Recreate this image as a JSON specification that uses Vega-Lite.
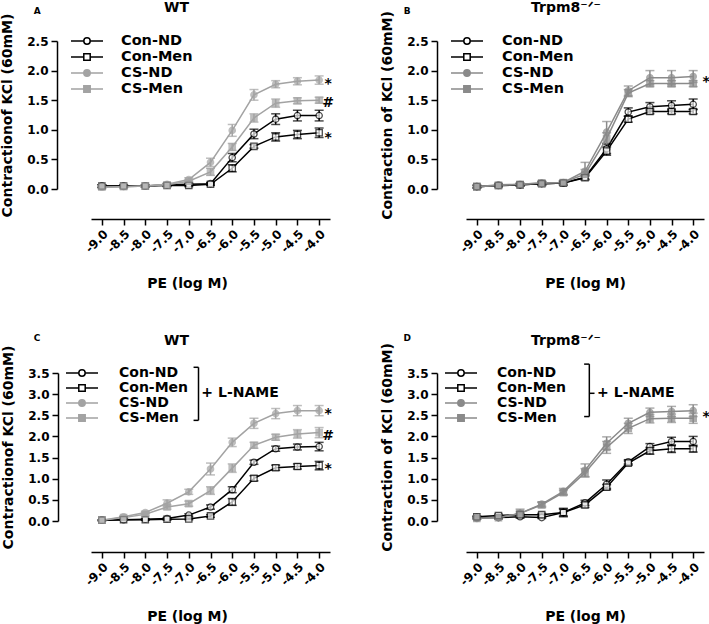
{
"$schema": "https://vega.github.io/schema/vega-lite/v6.json",
"background": "white",
"padding": {"left": 0, "top": 0, "right": 0, "bottom": 0},
"datasets": {
"main": [
{"p":"A","s":"Con-ND","x":-9,"y":0.05,"e":0.02},{"p":"A","s":"Con-ND","x":-8.5,"y":0.05,"e":0.02},{"p":"A","s":"Con-ND","x":-8,"y":0.05,"e":0.02},{"p":"A","s":"Con-ND","x":-7.5,"y":0.07,"e":0.02},{"p":"A","s":"Con-ND","x":-7,"y":0.08,"e":0.02},{"p":"A","s":"Con-ND","x":-6.5,"y":0.09,"e":0.02},{"p":"A","s":"Con-ND","x":-6,"y":0.53,"e":0.07},{"p":"A","s":"Con-ND","x":-5.5,"y":0.93,"e":0.08},{"p":"A","s":"Con-ND","x":-5,"y":1.18,"e":0.09},{"p":"A","s":"Con-ND","x":-4.5,"y":1.24,"e":0.09},{"p":"A","s":"Con-ND","x":-4,"y":1.24,"e":0.09},
{"p":"A","s":"Con-Men","x":-9,"y":0.05,"e":0.02},{"p":"A","s":"Con-Men","x":-8.5,"y":0.05,"e":0.02},{"p":"A","s":"Con-Men","x":-8,"y":0.05,"e":0.02},{"p":"A","s":"Con-Men","x":-7.5,"y":0.06,"e":0.02},{"p":"A","s":"Con-Men","x":-7,"y":0.06,"e":0.02},{"p":"A","s":"Con-Men","x":-6.5,"y":0.08,"e":0.02},{"p":"A","s":"Con-Men","x":-6,"y":0.35,"e":0.06},{"p":"A","s":"Con-Men","x":-5.5,"y":0.72,"e":0.03},{"p":"A","s":"Con-Men","x":-5,"y":0.88,"e":0.07},{"p":"A","s":"Con-Men","x":-4.5,"y":0.92,"e":0.07},{"p":"A","s":"Con-Men","x":-4,"y":0.95,"e":0.08},
{"p":"A","s":"CS-ND","x":-9,"y":0.03,"e":0.02},{"p":"A","s":"CS-ND","x":-8.5,"y":0.04,"e":0.02},{"p":"A","s":"CS-ND","x":-8,"y":0.05,"e":0.02},{"p":"A","s":"CS-ND","x":-7.5,"y":0.08,"e":0.02},{"p":"A","s":"CS-ND","x":-7,"y":0.16,"e":0.03},{"p":"A","s":"CS-ND","x":-6.5,"y":0.45,"e":0.07},{"p":"A","s":"CS-ND","x":-6,"y":0.99,"e":0.1},{"p":"A","s":"CS-ND","x":-5.5,"y":1.59,"e":0.09},{"p":"A","s":"CS-ND","x":-5,"y":1.77,"e":0.06},{"p":"A","s":"CS-ND","x":-4.5,"y":1.82,"e":0.06},{"p":"A","s":"CS-ND","x":-4,"y":1.84,"e":0.07},
{"p":"A","s":"CS-Men","x":-9,"y":0.03,"e":0.02},{"p":"A","s":"CS-Men","x":-8.5,"y":0.04,"e":0.02},{"p":"A","s":"CS-Men","x":-8,"y":0.05,"e":0.02},{"p":"A","s":"CS-Men","x":-7.5,"y":0.07,"e":0.02},{"p":"A","s":"CS-Men","x":-7,"y":0.13,"e":0.03},{"p":"A","s":"CS-Men","x":-6.5,"y":0.29,"e":0.06},{"p":"A","s":"CS-Men","x":-6,"y":0.71,"e":0.06},{"p":"A","s":"CS-Men","x":-5.5,"y":1.2,"e":0.07},{"p":"A","s":"CS-Men","x":-5,"y":1.45,"e":0.07},{"p":"A","s":"CS-Men","x":-4.5,"y":1.49,"e":0.05},{"p":"A","s":"CS-Men","x":-4,"y":1.5,"e":0.05},
{"p":"B","s":"Con-ND","x":-9,"y":0.04,"e":0.02},{"p":"B","s":"Con-ND","x":-8.5,"y":0.06,"e":0.02},{"p":"B","s":"Con-ND","x":-8,"y":0.07,"e":0.02},{"p":"B","s":"Con-ND","x":-7.5,"y":0.09,"e":0.03},{"p":"B","s":"Con-ND","x":-7,"y":0.1,"e":0.03},{"p":"B","s":"Con-ND","x":-6.5,"y":0.2,"e":0.04},{"p":"B","s":"Con-ND","x":-6,"y":0.68,"e":0.08},{"p":"B","s":"Con-ND","x":-5.5,"y":1.3,"e":0.07},{"p":"B","s":"Con-ND","x":-5,"y":1.39,"e":0.07},{"p":"B","s":"Con-ND","x":-4.5,"y":1.41,"e":0.08},{"p":"B","s":"Con-ND","x":-4,"y":1.43,"e":0.09},
{"p":"B","s":"Con-Men","x":-9,"y":0.04,"e":0.02},{"p":"B","s":"Con-Men","x":-8.5,"y":0.06,"e":0.02},{"p":"B","s":"Con-Men","x":-8,"y":0.07,"e":0.02},{"p":"B","s":"Con-Men","x":-7.5,"y":0.09,"e":0.03},{"p":"B","s":"Con-Men","x":-7,"y":0.1,"e":0.03},{"p":"B","s":"Con-Men","x":-6.5,"y":0.19,"e":0.03},{"p":"B","s":"Con-Men","x":-6,"y":0.64,"e":0.07},{"p":"B","s":"Con-Men","x":-5.5,"y":1.18,"e":0.05},{"p":"B","s":"Con-Men","x":-5,"y":1.31,"e":0.04},{"p":"B","s":"Con-Men","x":-4.5,"y":1.31,"e":0.04},{"p":"B","s":"Con-Men","x":-4,"y":1.31,"e":0.04},
{"p":"B","s":"CS-ND","x":-9,"y":0.04,"e":0.02},{"p":"B","s":"CS-ND","x":-8.5,"y":0.07,"e":0.02},{"p":"B","s":"CS-ND","x":-8,"y":0.08,"e":0.02},{"p":"B","s":"CS-ND","x":-7.5,"y":0.1,"e":0.03},{"p":"B","s":"CS-ND","x":-7,"y":0.11,"e":0.03},{"p":"B","s":"CS-ND","x":-6.5,"y":0.3,"e":0.15},{"p":"B","s":"CS-ND","x":-6,"y":0.96,"e":0.18},{"p":"B","s":"CS-ND","x":-5.5,"y":1.66,"e":0.08},{"p":"B","s":"CS-ND","x":-5,"y":1.88,"e":0.12},{"p":"B","s":"CS-ND","x":-4.5,"y":1.88,"e":0.12},{"p":"B","s":"CS-ND","x":-4,"y":1.9,"e":0.1},
{"p":"B","s":"CS-Men","x":-9,"y":0.04,"e":0.02},{"p":"B","s":"CS-Men","x":-8.5,"y":0.06,"e":0.02},{"p":"B","s":"CS-Men","x":-8,"y":0.08,"e":0.02},{"p":"B","s":"CS-Men","x":-7.5,"y":0.1,"e":0.03},{"p":"B","s":"CS-Men","x":-7,"y":0.11,"e":0.03},{"p":"B","s":"CS-Men","x":-6.5,"y":0.25,"e":0.08},{"p":"B","s":"CS-Men","x":-6,"y":0.85,"e":0.1},{"p":"B","s":"CS-Men","x":-5.5,"y":1.62,"e":0.06},{"p":"B","s":"CS-Men","x":-5,"y":1.78,"e":0.05},{"p":"B","s":"CS-Men","x":-4.5,"y":1.78,"e":0.05},{"p":"B","s":"CS-Men","x":-4,"y":1.78,"e":0.05},
{"p":"C","s":"Con-ND","x":-9,"y":0.02,"e":0.01},{"p":"C","s":"Con-ND","x":-8.5,"y":0.03,"e":0.01},{"p":"C","s":"Con-ND","x":-8,"y":0.04,"e":0.01},{"p":"C","s":"Con-ND","x":-7.5,"y":0.06,"e":0.02},{"p":"C","s":"Con-ND","x":-7,"y":0.14,"e":0.03},{"p":"C","s":"Con-ND","x":-6.5,"y":0.33,"e":0.05},{"p":"C","s":"Con-ND","x":-6,"y":0.74,"e":0.07},{"p":"C","s":"Con-ND","x":-5.5,"y":1.39,"e":0.05},{"p":"C","s":"Con-ND","x":-5,"y":1.71,"e":0.06},{"p":"C","s":"Con-ND","x":-4.5,"y":1.75,"e":0.07},{"p":"C","s":"Con-ND","x":-4,"y":1.76,"e":0.1},
{"p":"C","s":"Con-Men","x":-9,"y":0.02,"e":0.01},{"p":"C","s":"Con-Men","x":-8.5,"y":0.03,"e":0.01},{"p":"C","s":"Con-Men","x":-8,"y":0.03,"e":0.01},{"p":"C","s":"Con-Men","x":-7.5,"y":0.04,"e":0.02},{"p":"C","s":"Con-Men","x":-7,"y":0.05,"e":0.02},{"p":"C","s":"Con-Men","x":-6.5,"y":0.12,"e":0.03},{"p":"C","s":"Con-Men","x":-6,"y":0.45,"e":0.08},{"p":"C","s":"Con-Men","x":-5.5,"y":1.01,"e":0.06},{"p":"C","s":"Con-Men","x":-5,"y":1.26,"e":0.06},{"p":"C","s":"Con-Men","x":-4.5,"y":1.29,"e":0.06},{"p":"C","s":"Con-Men","x":-4,"y":1.31,"e":0.1},
{"p":"C","s":"CS-ND","x":-9,"y":0.02,"e":0.01},{"p":"C","s":"CS-ND","x":-8.5,"y":0.1,"e":0.02},{"p":"C","s":"CS-ND","x":-8,"y":0.2,"e":0.03},{"p":"C","s":"CS-ND","x":-7.5,"y":0.42,"e":0.08},{"p":"C","s":"CS-ND","x":-7,"y":0.69,"e":0.06},{"p":"C","s":"CS-ND","x":-6.5,"y":1.23,"e":0.14},{"p":"C","s":"CS-ND","x":-6,"y":1.86,"e":0.1},{"p":"C","s":"CS-ND","x":-5.5,"y":2.31,"e":0.12},{"p":"C","s":"CS-ND","x":-5,"y":2.54,"e":0.12},{"p":"C","s":"CS-ND","x":-4.5,"y":2.61,"e":0.12},{"p":"C","s":"CS-ND","x":-4,"y":2.61,"e":0.12},
{"p":"C","s":"CS-Men","x":-9,"y":0.02,"e":0.01},{"p":"C","s":"CS-Men","x":-8.5,"y":0.08,"e":0.02},{"p":"C","s":"CS-Men","x":-8,"y":0.16,"e":0.03},{"p":"C","s":"CS-Men","x":-7.5,"y":0.33,"e":0.05},{"p":"C","s":"CS-Men","x":-7,"y":0.41,"e":0.06},{"p":"C","s":"CS-Men","x":-6.5,"y":0.72,"e":0.09},{"p":"C","s":"CS-Men","x":-6,"y":1.25,"e":0.1},{"p":"C","s":"CS-Men","x":-5.5,"y":1.79,"e":0.07},{"p":"C","s":"CS-Men","x":-5,"y":1.98,"e":0.07},{"p":"C","s":"CS-Men","x":-4.5,"y":2.06,"e":0.1},{"p":"C","s":"CS-Men","x":-4,"y":2.09,"e":0.12},
{"p":"D","s":"Con-ND","x":-9,"y":0.08,"e":0.02},{"p":"D","s":"Con-ND","x":-8.5,"y":0.08,"e":0.03},{"p":"D","s":"Con-ND","x":-8,"y":0.1,"e":0.03},{"p":"D","s":"Con-ND","x":-7.5,"y":0.08,"e":0.02},{"p":"D","s":"Con-ND","x":-7,"y":0.2,"e":0.1},{"p":"D","s":"Con-ND","x":-6.5,"y":0.43,"e":0.06},{"p":"D","s":"Con-ND","x":-6,"y":0.87,"e":0.1},{"p":"D","s":"Con-ND","x":-5.5,"y":1.4,"e":0.05},{"p":"D","s":"Con-ND","x":-5,"y":1.76,"e":0.07},{"p":"D","s":"Con-ND","x":-4.5,"y":1.88,"e":0.1},{"p":"D","s":"Con-ND","x":-4,"y":1.88,"e":0.12},
{"p":"D","s":"Con-Men","x":-9,"y":0.1,"e":0.02},{"p":"D","s":"Con-Men","x":-8.5,"y":0.13,"e":0.03},{"p":"D","s":"Con-Men","x":-8,"y":0.15,"e":0.03},{"p":"D","s":"Con-Men","x":-7.5,"y":0.15,"e":0.03},{"p":"D","s":"Con-Men","x":-7,"y":0.2,"e":0.08},{"p":"D","s":"Con-Men","x":-6.5,"y":0.38,"e":0.06},{"p":"D","s":"Con-Men","x":-6,"y":0.8,"e":0.06},{"p":"D","s":"Con-Men","x":-5.5,"y":1.37,"e":0.05},{"p":"D","s":"Con-Men","x":-5,"y":1.66,"e":0.08},{"p":"D","s":"Con-Men","x":-4.5,"y":1.71,"e":0.09},{"p":"D","s":"Con-Men","x":-4,"y":1.71,"e":0.08},
{"p":"D","s":"CS-ND","x":-9,"y":0.06,"e":0.02},{"p":"D","s":"CS-ND","x":-8.5,"y":0.08,"e":0.03},{"p":"D","s":"CS-ND","x":-8,"y":0.18,"e":0.1},{"p":"D","s":"CS-ND","x":-7.5,"y":0.4,"e":0.05},{"p":"D","s":"CS-ND","x":-7,"y":0.7,"e":0.07},{"p":"D","s":"CS-ND","x":-6.5,"y":1.2,"e":0.15},{"p":"D","s":"CS-ND","x":-6,"y":1.84,"e":0.15},{"p":"D","s":"CS-ND","x":-5.5,"y":2.31,"e":0.12},{"p":"D","s":"CS-ND","x":-5,"y":2.57,"e":0.1},{"p":"D","s":"CS-ND","x":-4.5,"y":2.59,"e":0.12},{"p":"D","s":"CS-ND","x":-4,"y":2.61,"e":0.14},
{"p":"D","s":"CS-Men","x":-9,"y":0.06,"e":0.02},{"p":"D","s":"CS-Men","x":-8.5,"y":0.08,"e":0.03},{"p":"D","s":"CS-Men","x":-8,"y":0.18,"e":0.05},{"p":"D","s":"CS-Men","x":-7.5,"y":0.38,"e":0.06},{"p":"D","s":"CS-Men","x":-7,"y":0.67,"e":0.06},{"p":"D","s":"CS-Men","x":-6.5,"y":1.14,"e":0.1},{"p":"D","s":"CS-Men","x":-6,"y":1.74,"e":0.14},{"p":"D","s":"CS-Men","x":-5.5,"y":2.19,"e":0.12},{"p":"D","s":"CS-Men","x":-5,"y":2.42,"e":0.1},{"p":"D","s":"CS-Men","x":-4.5,"y":2.43,"e":0.1},{"p":"D","s":"CS-Men","x":-4,"y":2.43,"e":0.12}
],
"ann": [
{"p":"A","x":-4,"y":1.83,"label":"*"},{"p":"A","x":-4,"y":1.51,"label":"#"},{"p":"A","x":-4,"y":0.92,"label":"*"},
{"p":"B","x":-4,"y":1.86,"label":"*"},
{"p":"C","x":-4,"y":2.59,"label":"*"},{"p":"C","x":-4,"y":2.08,"label":"#"},{"p":"C","x":-4,"y":1.29,"label":"*"},
{"p":"D","x":-4,"y":2.54,"label":"*"}
],
"letters": [{"p":"A","t":"A"},{"p":"B","t":"B"},{"p":"C","t":"C"},{"p":"D","t":"D"}],
"lname": [{"p":"C","t":"+ L-NAME"},{"p":"D","t":"+ L-NAME"}]
},
"config": {
"view": {"stroke": null},
"font": "DejaVu Sans",
"axis": {"grid": false, "domainColor": "black", "domainWidth": 1.5, "tickColor": "black", "tickWidth": 1.5, "tickSize": 6, "labelFont": "DejaVu Sans", "labelFontWeight": "bold", "labelFontSize": 12, "labelColor": "black", "titleFont": "DejaVu Sans", "titleFontWeight": "bold", "titleFontSize": 14, "titleColor": "black", "labelPadding": 3, "labelOverlap": false},
"title": {"font": "DejaVu Sans", "fontSize": 14, "fontWeight": "bold", "color": "black", "anchor": "middle", "frame": "group"},
"legend": {"labelFont": "DejaVu Sans", "labelFontWeight": "bold", "labelFontSize": 14.5, "labelColor": "black", "padding": 0, "rowPadding": 0, "symbolStrokeWidth": 1.5, "symbolOpacity": 1},
"locale": {"number": {"decimal": ".", "thousands": ",", "grouping": [3], "currency": ["$", ""], "minus": "-"}}
},
"spacing": 43,
"resolve": {"scale": {"color": "independent", "stroke": "independent", "fill": "independent", "shape": "independent"}, "legend": {"color": "independent", "stroke": "independent", "fill": "independent", "shape": "independent"}},
"vconcat": [
{"hconcat": [
{"width": 239, "height": 148,
 "title": {"text": "WT", "dx": -34, "offset": -8},
 "layer": [
 {"encoding": {
  "x": {"field": "x", "type": "quantitative", "scale": {"domain": [-9.25, -3.75], "nice": false, "zero": false}, "axis": {"values": [-9,-8.5,-8,-7.5,-7,-6.5,-6,-5.5,-5,-4.5,-4], "format": ".1f", "labelAngle": -45, "offset": 30, "title": "PE (log M)", "titleX": 96, "titlePadding": 22}},
  "y": {"field": "y", "type": "quantitative", "scale": {"domain": [0, 2.5], "nice": false}, "axis": {"values": [0,0.5,1,1.5,2,2.5], "format": ".1f", "offset": 34, "title": "Contractionof KCl (60mM)", "titlePadding": 12}}
 },
 "layer": [
  {"data": {"name": "main"}, "transform": [{"filter": "datum.p == 'A'"}], "mark": {"type": "errorbar", "ticks": {"size": 9}, "thickness": 1.5}, "encoding": {"yError": {"field": "e"}, "color": {"field": "s", "type": "nominal", "scale": {"domain": ["CS-ND","CS-Men","Con-ND","Con-Men"], "range": ["#a3a3a3","#a3a3a3","black","black"]}, "legend": null}}},
  {"data": {"name": "main"}, "transform": [{"filter": "datum.p == 'A'"}], "mark": {"type": "line", "strokeWidth": 1.5}, "encoding": {"stroke": {"field": "s", "type": "nominal", "scale": {"domain": ["Con-ND","Con-Men","CS-ND","CS-Men"], "range": ["black","black","#a3a3a3","#a3a3a3"]}}}},
  {"data": {"name": "main"}, "transform": [{"filter": "datum.p == 'A' && (datum.s == 'Con-ND' || datum.s == 'CS-ND')"}], "mark": {"type": "point", "shape": "circle", "filled": true, "size": 40, "strokeWidth": 1.3},
   "encoding": {"fill": {"field": "s", "type": "nominal", "scale": {"domain": ["Con-ND","Con-Men","CS-ND","CS-Men"], "range": ["white","white","#a3a3a3","#a3a3a3"]}}, "stroke": {"field": "s", "type": "nominal"}}},
  {"data": {"name": "main"}, "transform": [{"filter": "datum.p == 'A' && (datum.s == 'Con-Men' || datum.s == 'CS-Men')"}], "mark": {"type": "point", "shape": "square", "filled": true, "size": 40, "strokeWidth": 1.3},
   "encoding": {"fill": {"field": "s", "type": "nominal"}, "stroke": {"field": "s", "type": "nominal"}}},
  {"data": {"name": "main"}, "transform": [{"filter": "datum.p == 'A'"}], "mark": {"type": "point", "filled": true, "opacity": 0, "strokeWidth": 1.5},
   "encoding": {
    "shape": {"field": "s", "type": "nominal", "scale": {"domain": ["Con-ND","Con-Men","CS-ND","CS-Men"], "range": ["M-1,0H-0.2M0.2,0H1M0.2,0A0.2,0.2,0,1,1,-0.2,0A0.2,0.2,0,1,1,0.2,0Z","M-1,0H-0.2M0.2,0H1M-0.2,-0.2H0.2V0.2H-0.2Z","M-1,0H-0.2M0.2,0H1M0.2,0A0.2,0.2,0,1,1,-0.2,0A0.2,0.2,0,1,1,0.2,0Z","M-1,0H-0.2M0.2,0H1M-0.2,-0.2H0.2V0.2H-0.2Z"]},
     "legend": {"orient": "none", "legendX": -21, "legendY": -7.5, "title": null, "symbolSize": 1024, "clipHeight": 15, "labelOffset": 17, "labelFontSize": 14.5}},
    "fill": {"field": "s", "type": "nominal", "legend": {"orient": "none", "legendX": -21, "legendY": -7.5, "title": null, "symbolSize": 1024, "clipHeight": 15, "labelOffset": 17, "labelFontSize": 14.5}},
    "stroke": {"field": "s", "type": "nominal", "legend": {"orient": "none", "legendX": -21, "legendY": -7.5, "title": null, "symbolSize": 1024, "clipHeight": 15, "labelOffset": 17, "labelFontSize": 14.5}}}},
  {"data": {"name": "ann"}, "transform": [{"filter": "datum.p == 'A'"}], "mark": {"type": "text", "dx": 9, "dy": 3, "font": "DejaVu Sans", "fontWeight": "bold", "fontSize": 14, "align": "center", "baseline": "middle", "color": "black"}, "encoding": {"text": {"field": "label"}}}
 ]},
 {"data": {"name": "letters"}, "transform": [{"filter": "datum.p == 'A'"}], "mark": {"type": "text", "fontSize": 9, "font": "DejaVu Sans", "fontWeight": "bold", "color": "black", "align": "center", "baseline": "middle"},
  "encoding": {"x": {"datum": -10.49, "type": "quantitative", "scale": {"domain": [-9.25, -3.75], "nice": false, "zero": false}, "axis": {"values": [-9,-8.5,-8,-7.5,-7,-6.5,-6,-5.5,-5,-4.5,-4], "format": ".1f", "labelAngle": -45, "offset": 30, "title": "PE (log M)", "titleX": 96, "titlePadding": 22}},
   "y": {"datum": 3.01, "type": "quantitative", "scale": {"domain": [0, 2.5], "nice": false}, "axis": {"values": [0,0.5,1,1.5,2,2.5], "format": ".1f", "offset": 34, "title": "Contractionof KCl (60mM)", "titlePadding": 12}},
   "text": {"field": "t"}}}
 ]
},
{"width": 238, "height": 148,
 "title": {"text": "Trpm8⁻ᐟ⁻", "dx": -19, "offset": -8},
 "layer": [
 {"encoding": {
  "x": {"field": "x", "type": "quantitative", "scale": {"domain": [-9.25, -3.75], "nice": false, "zero": false}, "axis": {"values": [-9,-8.5,-8,-7.5,-7,-6.5,-6,-5.5,-5,-4.5,-4], "format": ".1f", "labelAngle": -45, "offset": 30, "title": "PE (log M)", "titlePadding": 22}},
  "y": {"field": "y", "type": "quantitative", "scale": {"domain": [0, 2.5], "nice": false}, "axis": {"values": [0,0.5,1,1.5,2,2.5], "format": ".1f", "offset": 29, "title": "Contraction of KCl (60mM)", "titlePadding": 12}}
 },
 "layer": [
  {"data": {"name": "main"}, "transform": [{"filter": "datum.p == 'B'"}], "mark": {"type": "errorbar", "ticks": {"size": 9}, "thickness": 1.5}, "encoding": {"yError": {"field": "e"}, "color": {"field": "s", "type": "nominal", "scale": {"domain": ["CS-ND","CS-Men","Con-ND","Con-Men"], "range": ["#8a8a8a","#8a8a8a","black","black"]}, "legend": null}}},
  {"data": {"name": "main"}, "transform": [{"filter": "datum.p == 'B'"}], "mark": {"type": "line", "strokeWidth": 1.5}, "encoding": {"stroke": {"field": "s", "type": "nominal", "scale": {"domain": ["Con-ND","Con-Men","CS-ND","CS-Men"], "range": ["black","black","#8a8a8a","#8a8a8a"]}}}},
  {"data": {"name": "main"}, "transform": [{"filter": "datum.p == 'B' && (datum.s == 'Con-ND' || datum.s == 'CS-ND')"}], "mark": {"type": "point", "shape": "circle", "filled": true, "size": 40, "strokeWidth": 1.3},
   "encoding": {"fill": {"field": "s", "type": "nominal", "scale": {"domain": ["Con-ND","Con-Men","CS-ND","CS-Men"], "range": ["white","white","#8a8a8a","#8a8a8a"]}}, "stroke": {"field": "s", "type": "nominal"}}},
  {"data": {"name": "main"}, "transform": [{"filter": "datum.p == 'B' && (datum.s == 'Con-Men' || datum.s == 'CS-Men')"}], "mark": {"type": "point", "shape": "square", "filled": true, "size": 40, "strokeWidth": 1.3},
   "encoding": {"fill": {"field": "s", "type": "nominal"}, "stroke": {"field": "s", "type": "nominal"}}},
  {"data": {"name": "main"}, "transform": [{"filter": "datum.p == 'B'"}], "mark": {"type": "point", "filled": true, "opacity": 0, "strokeWidth": 1.5},
   "encoding": {
    "shape": {"field": "s", "type": "nominal", "scale": {"domain": ["Con-ND","Con-Men","CS-ND","CS-Men"], "range": ["M-1,0H-0.2M0.2,0H1M0.2,0A0.2,0.2,0,1,1,-0.2,0A0.2,0.2,0,1,1,0.2,0Z","M-1,0H-0.2M0.2,0H1M-0.2,-0.2H0.2V0.2H-0.2Z","M-1,0H-0.2M0.2,0H1M0.2,0A0.2,0.2,0,1,1,-0.2,0A0.2,0.2,0,1,1,0.2,0Z","M-1,0H-0.2M0.2,0H1M-0.2,-0.2H0.2V0.2H-0.2Z"]},
     "legend": {"orient": "none", "legendX": -16, "legendY": -7.5, "title": null, "symbolSize": 1024, "clipHeight": 15, "labelOffset": 18, "labelFontSize": 14.5}},
    "fill": {"field": "s", "type": "nominal", "legend": {"orient": "none", "legendX": -16, "legendY": -7.5, "title": null, "symbolSize": 1024, "clipHeight": 15, "labelOffset": 18, "labelFontSize": 14.5}},
    "stroke": {"field": "s", "type": "nominal", "legend": {"orient": "none", "legendX": -16, "legendY": -7.5, "title": null, "symbolSize": 1024, "clipHeight": 15, "labelOffset": 18, "labelFontSize": 14.5}}}},
  {"data": {"name": "ann"}, "transform": [{"filter": "datum.p == 'B'"}], "mark": {"type": "text", "dx": 13, "dy": 3, "font": "DejaVu Sans", "fontWeight": "bold", "fontSize": 14, "align": "center", "baseline": "middle", "color": "black"}, "encoding": {"text": {"field": "label"}}}
 ]},
 {"data": {"name": "letters"}, "transform": [{"filter": "datum.p == 'B'"}], "mark": {"type": "text", "fontSize": 9, "font": "DejaVu Sans", "fontWeight": "bold", "color": "black", "align": "center", "baseline": "middle"},
  "encoding": {"x": {"datum": -10.61, "type": "quantitative", "scale": {"domain": [-9.25, -3.75], "nice": false, "zero": false}, "axis": {"values": [-9,-8.5,-8,-7.5,-7,-6.5,-6,-5.5,-5,-4.5,-4], "format": ".1f", "labelAngle": -45, "offset": 30, "title": "PE (log M)", "titlePadding": 22}},
   "y": {"datum": 3.01, "type": "quantitative", "scale": {"domain": [0, 2.5], "nice": false}, "axis": {"values": [0,0.5,1,1.5,2,2.5], "format": ".1f", "offset": 29, "title": "Contraction of KCl (60mM)", "titlePadding": 12}},
   "text": {"field": "t"}}}
 ]
}
], "spacing": 45, "resolve": {"scale": {"color": "independent", "stroke": "independent", "fill": "independent", "shape": "independent"}, "legend": {"color": "independent", "stroke": "independent", "fill": "independent", "shape": "independent"}}},
{"hconcat": [
{"width": 239, "height": 148,
 "title": {"text": "WT", "dx": -34, "offset": -14},
 "layer": [
 {"encoding": {
  "x": {"field": "x", "type": "quantitative", "scale": {"domain": [-9.25, -3.75], "nice": false, "zero": false}, "axis": {"values": [-9,-8.5,-8,-7.5,-7,-6.5,-6,-5.5,-5,-4.5,-4], "format": ".1f", "labelAngle": -45, "offset": 31, "title": "PE (log M)", "titleX": 96, "titlePadding": 22}},
  "y": {"field": "y", "type": "quantitative", "scale": {"domain": [0, 3.5], "nice": false}, "axis": {"values": [0,0.5,1,1.5,2,2.5,3,3.5], "format": ".1f", "offset": 33, "title": "Contractionof KCl (60mM)", "titlePadding": 12}}
 },
 "layer": [
  {"data": {"name": "main"}, "transform": [{"filter": "datum.p == 'C'"}], "mark": {"type": "errorbar", "ticks": {"size": 9}, "thickness": 1.5}, "encoding": {"yError": {"field": "e"}, "color": {"field": "s", "type": "nominal", "scale": {"domain": ["CS-ND","CS-Men","Con-ND","Con-Men"], "range": ["#a3a3a3","#a3a3a3","black","black"]}, "legend": null}}},
  {"data": {"name": "main"}, "transform": [{"filter": "datum.p == 'C'"}], "mark": {"type": "line", "strokeWidth": 1.5}, "encoding": {"stroke": {"field": "s", "type": "nominal", "scale": {"domain": ["Con-ND","Con-Men","CS-ND","CS-Men"], "range": ["black","black","#a3a3a3","#a3a3a3"]}}}},
  {"data": {"name": "main"}, "transform": [{"filter": "datum.p == 'C' && (datum.s == 'Con-ND' || datum.s == 'CS-ND')"}], "mark": {"type": "point", "shape": "circle", "filled": true, "size": 40, "strokeWidth": 1.3},
   "encoding": {"fill": {"field": "s", "type": "nominal", "scale": {"domain": ["Con-ND","Con-Men","CS-ND","CS-Men"], "range": ["white","white","#a3a3a3","#a3a3a3"]}}, "stroke": {"field": "s", "type": "nominal"}}},
  {"data": {"name": "main"}, "transform": [{"filter": "datum.p == 'C' && (datum.s == 'Con-Men' || datum.s == 'CS-Men')"}], "mark": {"type": "point", "shape": "square", "filled": true, "size": 40, "strokeWidth": 1.3},
   "encoding": {"fill": {"field": "s", "type": "nominal"}, "stroke": {"field": "s", "type": "nominal"}}},
  {"data": {"name": "main"}, "transform": [{"filter": "datum.p == 'C'"}], "mark": {"type": "point", "filled": true, "opacity": 0, "strokeWidth": 1.5},
   "encoding": {
    "shape": {"field": "s", "type": "nominal", "scale": {"domain": ["Con-ND","Con-Men","CS-ND","CS-Men"], "range": ["M-1,0H-0.2M0.2,0H1M0.2,0A0.2,0.2,0,1,1,-0.2,0A0.2,0.2,0,1,1,0.2,0Z","M-1,0H-0.2M0.2,0H1M-0.2,-0.2H0.2V0.2H-0.2Z","M-1,0H-0.2M0.2,0H1M0.2,0A0.2,0.2,0,1,1,-0.2,0A0.2,0.2,0,1,1,0.2,0Z","M-1,0H-0.2M0.2,0H1M-0.2,-0.2H0.2V0.2H-0.2Z"]},
     "legend": {"orient": "none", "legendX": -26, "legendY": -7.2, "title": null, "symbolSize": 1024, "clipHeight": 14.4, "labelOffset": 20, "labelFontSize": 14}},
    "fill": {"field": "s", "type": "nominal", "legend": {"orient": "none", "legendX": -26, "legendY": -7.2, "title": null, "symbolSize": 1024, "clipHeight": 14.4, "labelOffset": 20, "labelFontSize": 14}},
    "stroke": {"field": "s", "type": "nominal", "legend": {"orient": "none", "legendX": -26, "legendY": -7.2, "title": null, "symbolSize": 1024, "clipHeight": 14.4, "labelOffset": 20, "labelFontSize": 14}}}},
  {"data": {"name": "ann"}, "transform": [{"filter": "datum.p == 'C'"}], "mark": {"type": "text", "dx": 9, "dy": 3, "font": "DejaVu Sans", "fontWeight": "bold", "fontSize": 14, "align": "center", "baseline": "middle", "color": "black"}, "encoding": {"text": {"field": "label"}}}
 ]},
 {"data": {"name": "lname"}, "transform": [{"filter": "datum.p == 'C'"}], "mark": {"type": "rule", "strokeWidth": 1.5, "color": "black"},
  "encoding": {"x": {"datum": -6.776, "type": "quantitative", "scale": {"domain": [-9.25, -3.75], "nice": false, "zero": false}, "axis": {"values": [-9,-8.5,-8,-7.5,-7,-6.5,-6,-5.5,-5,-4.5,-4], "format": ".1f", "labelAngle": -45, "offset": 31, "title": "PE (log M)", "titleX": 96, "titlePadding": 22}},
   "y": {"datum": 2.38, "type": "quantitative", "scale": {"domain": [0, 3.5], "nice": false}, "axis": {"values": [0,0.5,1,1.5,2,2.5,3,3.5], "format": ".1f", "offset": 33, "title": "Contractionof KCl (60mM)", "titlePadding": 12}},
   "y2": {"datum": 3.635}}},
 {"data": {"name": "lname"}, "transform": [{"filter": "datum.p == 'C'"}], "mark": {"type": "rule", "strokeWidth": 1.5, "color": "black"},
  "encoding": {"x": {"datum": -6.89, "type": "quantitative", "scale": {"domain": [-9.25, -3.75], "nice": false, "zero": false}, "axis": {"values": [-9,-8.5,-8,-7.5,-7,-6.5,-6,-5.5,-5,-4.5,-4], "format": ".1f", "labelAngle": -45, "offset": 31, "title": "PE (log M)", "titleX": 96, "titlePadding": 22}},
   "x2": {"datum": -6.776},
   "y": {"datum": 3.635, "type": "quantitative", "scale": {"domain": [0, 3.5], "nice": false}, "axis": {"values": [0,0.5,1,1.5,2,2.5,3,3.5], "format": ".1f", "offset": 33, "title": "Contractionof KCl (60mM)", "titlePadding": 12}}}},
 {"data": {"name": "lname"}, "transform": [{"filter": "datum.p == 'C'"}], "mark": {"type": "rule", "strokeWidth": 1.5, "color": "black"},
  "encoding": {"x": {"datum": -6.89, "type": "quantitative", "scale": {"domain": [-9.25, -3.75], "nice": false, "zero": false}, "axis": {"values": [-9,-8.5,-8,-7.5,-7,-6.5,-6,-5.5,-5,-4.5,-4], "format": ".1f", "labelAngle": -45, "offset": 31, "title": "PE (log M)", "titleX": 96, "titlePadding": 22}},
   "x2": {"datum": -6.776},
   "y": {"datum": 2.38, "type": "quantitative", "scale": {"domain": [0, 3.5], "nice": false}, "axis": {"values": [0,0.5,1,1.5,2,2.5,3,3.5], "format": ".1f", "offset": 33, "title": "Contractionof KCl (60mM)", "titlePadding": 12}}}},
 {"data": {"name": "lname"}, "transform": [{"filter": "datum.p == 'C'"}], "mark": {"type": "text", "fontSize": 14, "font": "DejaVu Sans", "fontWeight": "bold", "color": "black", "align": "left", "baseline": "middle"},
  "encoding": {"x": {"datum": -6.71, "type": "quantitative", "scale": {"domain": [-9.25, -3.75], "nice": false, "zero": false}, "axis": {"values": [-9,-8.5,-8,-7.5,-7,-6.5,-6,-5.5,-5,-4.5,-4], "format": ".1f", "labelAngle": -45, "offset": 31, "title": "PE (log M)", "titleX": 96, "titlePadding": 22}},
   "y": {"datum": 3.02, "type": "quantitative", "scale": {"domain": [0, 3.5], "nice": false}, "axis": {"values": [0,0.5,1,1.5,2,2.5,3,3.5], "format": ".1f", "offset": 33, "title": "Contractionof KCl (60mM)", "titlePadding": 12}},
   "text": {"field": "t"}}},
 {"data": {"name": "letters"}, "transform": [{"filter": "datum.p == 'C'"}], "mark": {"type": "text", "fontSize": 9, "font": "DejaVu Sans", "fontWeight": "bold", "color": "black", "align": "center", "baseline": "middle"},
  "encoding": {"x": {"datum": -10.49, "type": "quantitative", "scale": {"domain": [-9.25, -3.75], "nice": false, "zero": false}, "axis": {"values": [-9,-8.5,-8,-7.5,-7,-6.5,-6,-5.5,-5,-4.5,-4], "format": ".1f", "labelAngle": -45, "offset": 31, "title": "PE (log M)", "titleX": 96, "titlePadding": 22}},
   "y": {"datum": 4.32, "type": "quantitative", "scale": {"domain": [0, 3.5], "nice": false}, "axis": {"values": [0,0.5,1,1.5,2,2.5,3,3.5], "format": ".1f", "offset": 33, "title": "Contractionof KCl (60mM)", "titlePadding": 12}},
   "text": {"field": "t"}}}
 ]
},
{"width": 238, "height": 148,
 "title": {"text": "Trpm8⁻ᐟ⁻", "dx": -19, "offset": -14},
 "layer": [
 {"encoding": {
  "x": {"field": "x", "type": "quantitative", "scale": {"domain": [-9.25, -3.75], "nice": false, "zero": false}, "axis": {"values": [-9,-8.5,-8,-7.5,-7,-6.5,-6,-5.5,-5,-4.5,-4], "format": ".1f", "labelAngle": -45, "offset": 31, "title": "PE (log M)", "titlePadding": 22}},
  "y": {"field": "y", "type": "quantitative", "scale": {"domain": [0, 3.5], "nice": false}, "axis": {"values": [0,0.5,1,1.5,2,2.5,3,3.5], "format": ".1f", "offset": 29, "title": "Contraction of KCl (60mM)", "titlePadding": 12}}
 },
 "layer": [
  {"data": {"name": "main"}, "transform": [{"filter": "datum.p == 'D'"}], "mark": {"type": "errorbar", "ticks": {"size": 9}, "thickness": 1.5}, "encoding": {"yError": {"field": "e"}, "color": {"field": "s", "type": "nominal", "scale": {"domain": ["CS-ND","CS-Men","Con-ND","Con-Men"], "range": ["#8a8a8a","#8a8a8a","black","black"]}, "legend": null}}},
  {"data": {"name": "main"}, "transform": [{"filter": "datum.p == 'D'"}], "mark": {"type": "line", "strokeWidth": 1.5}, "encoding": {"stroke": {"field": "s", "type": "nominal", "scale": {"domain": ["Con-ND","Con-Men","CS-ND","CS-Men"], "range": ["black","black","#8a8a8a","#8a8a8a"]}}}},
  {"data": {"name": "main"}, "transform": [{"filter": "datum.p == 'D' && (datum.s == 'Con-ND' || datum.s == 'CS-ND')"}], "mark": {"type": "point", "shape": "circle", "filled": true, "size": 40, "strokeWidth": 1.3},
   "encoding": {"fill": {"field": "s", "type": "nominal", "scale": {"domain": ["Con-ND","Con-Men","CS-ND","CS-Men"], "range": ["white","white","#8a8a8a","#8a8a8a"]}}, "stroke": {"field": "s", "type": "nominal"}}},
  {"data": {"name": "main"}, "transform": [{"filter": "datum.p == 'D' && (datum.s == 'Con-Men' || datum.s == 'CS-Men')"}], "mark": {"type": "point", "shape": "square", "filled": true, "size": 40, "strokeWidth": 1.3},
   "encoding": {"fill": {"field": "s", "type": "nominal"}, "stroke": {"field": "s", "type": "nominal"}}},
  {"data": {"name": "main"}, "transform": [{"filter": "datum.p == 'D'"}], "mark": {"type": "point", "filled": true, "opacity": 0, "strokeWidth": 1.5},
   "encoding": {
    "shape": {"field": "s", "type": "nominal", "scale": {"domain": ["Con-ND","Con-Men","CS-ND","CS-Men"], "range": ["M-1,0H-0.2M0.2,0H1M0.2,0A0.2,0.2,0,1,1,-0.2,0A0.2,0.2,0,1,1,0.2,0Z","M-1,0H-0.2M0.2,0H1M-0.2,-0.2H0.2V0.2H-0.2Z","M-1,0H-0.2M0.2,0H1M0.2,0A0.2,0.2,0,1,1,-0.2,0A0.2,0.2,0,1,1,0.2,0Z","M-1,0H-0.2M0.2,0H1M-0.2,-0.2H0.2V0.2H-0.2Z"]},
     "legend": {"orient": "none", "legendX": -22, "legendY": -7.2, "title": null, "symbolSize": 1024, "clipHeight": 14.4, "labelOffset": 19, "labelFontSize": 14}},
    "fill": {"field": "s", "type": "nominal", "legend": {"orient": "none", "legendX": -22, "legendY": -7.2, "title": null, "symbolSize": 1024, "clipHeight": 14.4, "labelOffset": 19, "labelFontSize": 14}},
    "stroke": {"field": "s", "type": "nominal", "legend": {"orient": "none", "legendX": -22, "legendY": -7.2, "title": null, "symbolSize": 1024, "clipHeight": 14.4, "labelOffset": 19, "labelFontSize": 14}}}},
  {"data": {"name": "ann"}, "transform": [{"filter": "datum.p == 'D'"}], "mark": {"type": "text", "dx": 13, "dy": 3, "font": "DejaVu Sans", "fontWeight": "bold", "fontSize": 14, "align": "center", "baseline": "middle", "color": "black"}, "encoding": {"text": {"field": "label"}}}
 ]},
 {"data": {"name": "lname"}, "transform": [{"filter": "datum.p == 'D'"}], "mark": {"type": "rule", "strokeWidth": 1.5, "color": "black"},
  "encoding": {"x": {"datum": -6.40, "type": "quantitative", "scale": {"domain": [-9.25, -3.75], "nice": false, "zero": false}, "axis": {"values": [-9,-8.5,-8,-7.5,-7,-6.5,-6,-5.5,-5,-4.5,-4], "format": ".1f", "labelAngle": -45, "offset": 31, "title": "PE (log M)", "titlePadding": 22}},
   "y": {"datum": 2.47, "type": "quantitative", "scale": {"domain": [0, 3.5], "nice": false}, "axis": {"values": [0,0.5,1,1.5,2,2.5,3,3.5], "format": ".1f", "offset": 29, "title": "Contraction of KCl (60mM)", "titlePadding": 12}},
   "y2": {"datum": 3.71}}},
 {"data": {"name": "lname"}, "transform": [{"filter": "datum.p == 'D'"}], "mark": {"type": "rule", "strokeWidth": 1.5, "color": "black"},
  "encoding": {"x": {"datum": -6.52, "type": "quantitative", "scale": {"domain": [-9.25, -3.75], "nice": false, "zero": false}, "axis": {"values": [-9,-8.5,-8,-7.5,-7,-6.5,-6,-5.5,-5,-4.5,-4], "format": ".1f", "labelAngle": -45, "offset": 31, "title": "PE (log M)", "titlePadding": 22}},
   "x2": {"datum": -6.40},
   "y": {"datum": 3.71, "type": "quantitative", "scale": {"domain": [0, 3.5], "nice": false}, "axis": {"values": [0,0.5,1,1.5,2,2.5,3,3.5], "format": ".1f", "offset": 29, "title": "Contraction of KCl (60mM)", "titlePadding": 12}}}},
 {"data": {"name": "lname"}, "transform": [{"filter": "datum.p == 'D'"}], "mark": {"type": "rule", "strokeWidth": 1.5, "color": "black"},
  "encoding": {"x": {"datum": -6.52, "type": "quantitative", "scale": {"domain": [-9.25, -3.75], "nice": false, "zero": false}, "axis": {"values": [-9,-8.5,-8,-7.5,-7,-6.5,-6,-5.5,-5,-4.5,-4], "format": ".1f", "labelAngle": -45, "offset": 31, "title": "PE (log M)", "titlePadding": 22}},
   "x2": {"datum": -6.40},
   "y": {"datum": 2.47, "type": "quantitative", "scale": {"domain": [0, 3.5], "nice": false}, "axis": {"values": [0,0.5,1,1.5,2,2.5,3,3.5], "format": ".1f", "offset": 29, "title": "Contraction of KCl (60mM)", "titlePadding": 12}}}},
 {"data": {"name": "lname"}, "transform": [{"filter": "datum.p == 'D'"}], "mark": {"type": "rule", "strokeWidth": 1.5, "color": "black"},
  "encoding": {"x": {"datum": -6.40, "type": "quantitative", "scale": {"domain": [-9.25, -3.75], "nice": false, "zero": false}, "axis": {"values": [-9,-8.5,-8,-7.5,-7,-6.5,-6,-5.5,-5,-4.5,-4], "format": ".1f", "labelAngle": -45, "offset": 31, "title": "PE (log M)", "titlePadding": 22}},
   "x2": {"datum": -6.28},
   "y": {"datum": 3.02, "type": "quantitative", "scale": {"domain": [0, 3.5], "nice": false}, "axis": {"values": [0,0.5,1,1.5,2,2.5,3,3.5], "format": ".1f", "offset": 29, "title": "Contraction of KCl (60mM)", "titlePadding": 12}}}},
 {"data": {"name": "lname"}, "transform": [{"filter": "datum.p == 'D'"}], "mark": {"type": "text", "fontSize": 14, "font": "DejaVu Sans", "fontWeight": "bold", "color": "black", "align": "left", "baseline": "middle"},
  "encoding": {"x": {"datum": -6.22, "type": "quantitative", "scale": {"domain": [-9.25, -3.75], "nice": false, "zero": false}, "axis": {"values": [-9,-8.5,-8,-7.5,-7,-6.5,-6,-5.5,-5,-4.5,-4], "format": ".1f", "labelAngle": -45, "offset": 31, "title": "PE (log M)", "titlePadding": 22}},
   "y": {"datum": 3.02, "type": "quantitative", "scale": {"domain": [0, 3.5], "nice": false}, "axis": {"values": [0,0.5,1,1.5,2,2.5,3,3.5], "format": ".1f", "offset": 29, "title": "Contraction of KCl (60mM)", "titlePadding": 12}},
   "text": {"field": "t"}}},
 {"data": {"name": "letters"}, "transform": [{"filter": "datum.p == 'D'"}], "mark": {"type": "text", "fontSize": 9, "font": "DejaVu Sans", "fontWeight": "bold", "color": "black", "align": "center", "baseline": "middle"},
  "encoding": {"x": {"datum": -10.61, "type": "quantitative", "scale": {"domain": [-9.25, -3.75], "nice": false, "zero": false}, "axis": {"values": [-9,-8.5,-8,-7.5,-7,-6.5,-6,-5.5,-5,-4.5,-4], "format": ".1f", "labelAngle": -45, "offset": 31, "title": "PE (log M)", "titlePadding": 22}},
   "y": {"datum": 4.32, "type": "quantitative", "scale": {"domain": [0, 3.5], "nice": false}, "axis": {"values": [0,0.5,1,1.5,2,2.5,3,3.5], "format": ".1f", "offset": 29, "title": "Contraction of KCl (60mM)", "titlePadding": 12}},
   "text": {"field": "t"}}}
 ]
}
], "spacing": 45, "resolve": {"scale": {"color": "independent", "stroke": "independent", "fill": "independent", "shape": "independent"}, "legend": {"color": "independent", "stroke": "independent", "fill": "independent", "shape": "independent"}}}
]
}
